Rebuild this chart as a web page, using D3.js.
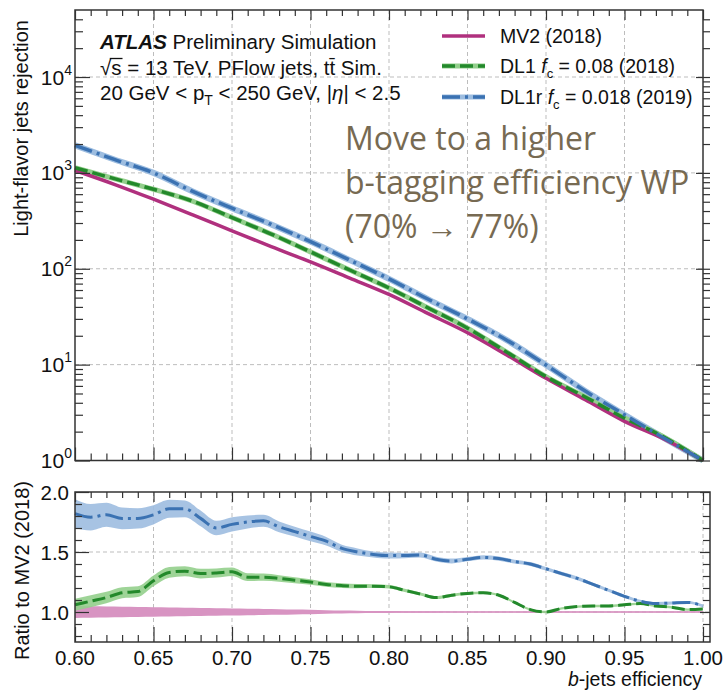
<!DOCTYPE html>
<html>
<head>
<meta charset="utf-8">
<script src="https://d3js.org/d3.v7.min.js"></script>
<title>b-tagging performance</title>
<style>
  body { margin: 0; background: #fff; }
  text { font-family: "Liberation Sans", Arial, Helvetica, sans-serif; fill: #111; }
  .tick line { stroke: #333; stroke-width: 1.2; }
</style>
</head>
<body>
<div id="chart"></div>
<script>
// ---- top panel: light-flavour rejection vs b-jet efficiency ----
var effMain = [0.600, 0.625, 0.650, 0.675, 0.700, 0.725, 0.750, 0.775, 0.800, 0.825, 0.850, 0.875, 0.900, 0.925, 0.950, 0.975, 1.000];
var rejMV2  = [1060, 760, 531, 365, 249, 170, 118, 80, 54, 34, 21.5, 12.6, 7.2, 4.3, 2.56, 1.68, 1.0];
var rejDL1  = [1130, 870, 675, 506, 342, 230, 150, 97, 63, 39, 24, 13.5, 7.5, 4.6, 2.77, 1.76, 1.0];
var rejDL1r = [1940, 1380, 1000, 640, 428, 290, 192, 123, 78.5, 48, 30, 18, 9.9, 5.3, 3.0, 1.72, 1.0];

// ---- bottom panel: ratio to MV2 ----
var effRatio = [0.60, 0.61, 0.62, 0.63, 0.64, 0.65, 0.66, 0.67, 0.68, 0.69, 0.70, 0.71, 0.72, 0.73, 0.74, 0.75, 0.76, 0.77, 0.78, 0.79, 0.80,
                0.81, 0.82, 0.83, 0.84, 0.85, 0.86, 0.87, 0.88, 0.89, 0.90, 0.91, 0.92, 0.93, 0.94, 0.95, 0.96, 0.97, 0.98, 0.99, 1.00];
var ratioDL1r = [1.82, 1.79, 1.81, 1.78, 1.78, 1.81, 1.86, 1.86, 1.78, 1.70, 1.73, 1.75, 1.76, 1.71, 1.67, 1.63, 1.59, 1.53, 1.50, 1.48, 1.47,
                 1.47, 1.475, 1.44, 1.425, 1.44, 1.455, 1.445, 1.42, 1.40, 1.36, 1.32, 1.28, 1.23, 1.18, 1.13, 1.09, 1.07, 1.075, 1.08, 1.05];
var ratioDL1  = [1.06, 1.09, 1.12, 1.16, 1.17, 1.26, 1.33, 1.34, 1.32, 1.325, 1.335, 1.29, 1.29, 1.28, 1.265, 1.25, 1.23, 1.22, 1.215, 1.215, 1.21,
                 1.18, 1.15, 1.12, 1.14, 1.155, 1.16, 1.14, 1.08, 1.02, 1.00, 1.03, 1.045, 1.05, 1.05, 1.06, 1.07, 1.05, 1.04, 1.02, 1.025];
var errDL1r = [0.12, 0.11, 0.10, 0.09, 0.085, 0.08, 0.075, 0.07, 0.065, 0.06, 0.06, 0.055, 0.05, 0.045, 0.04, 0.04, 0.035, 0.03, 0.03, 0.025, 0.025,
               0.022, 0.02, 0.02, 0.02, 0.018, 0.018, 0.018, 0.016, 0.016, 0.015, 0.015, 0.015, 0.014, 0.014, 0.014, 0.013, 0.013, 0.013, 0.012, 0.012];
var errDL1  = [0.05, 0.05, 0.048, 0.046, 0.045, 0.045, 0.045, 0.042, 0.04, 0.038, 0.035, 0.032, 0.03, 0.027, 0.025, 0.022, 0.02, 0.02, 0.018, 0.016, 0.015,
               0.014, 0.013, 0.012, 0.012, 0.011, 0.011, 0.01, 0.01, 0.01, 0.01, 0.01, 0.01, 0.01, 0.01, 0.01, 0.01, 0.01, 0.01, 0.01, 0.01];
var errMV2  = [0.05, 0.048, 0.046, 0.044, 0.042, 0.04, 0.038, 0.036, 0.034, 0.032, 0.03, 0.028, 0.025, 0.023, 0.02, 0.018, 0.015, 0.013, 0.011, 0.009, 0.008,
               0.007, 0.006, 0.006, 0.005, 0.005, 0.005, 0.005, 0.004, 0.004, 0.004, 0.004, 0.004, 0.004, 0.004, 0.004, 0.004, 0.004, 0.004, 0.004, 0.004];

// tick labels
var xMajor = [0.60, 0.65, 0.70, 0.75, 0.80, 0.85, 0.90, 0.95, 1.00];
var yMajor = [1, 10, 100, 1000, 10000];
var yExp = ["0", "1", "2", "3", "4"];
var ratioMajor = [1.0, 1.5, 2.0];

var legendTitles = [["MV2 (2018)"], ["DL1 ", "f", "c", " = 0.08 (2018)"], ["DL1r ", "f", "c", " = 0.018 (2019)"]];
var infoLines = ["Move to a higher", "b-tagging efficiency WP", "(70% \u2192 77%)"];

var colMV2 = "#b0307e", colDL1 = "#23892b", colDL1r = "#3b72b2";
var bandMV2 = "#d894c2", bandDL1 = "#93cf8c", bandDL1r = "#9dbde0";

var svg = d3.select("#chart").append("svg").attr("width", 726).attr("height", 691);

var x = d3.scaleLinear().domain([0.6, 1.0]).range([75, 703]);
var y = d3.scaleLog().domain([1, 5e4]).range([460.5, 10]);
var yr = d3.scaleLinear().domain([0.75, 2.0]).range([642, 492]);

var xMinor = d3.range(0.60, 1.0001, 0.01).filter(function(v) { return Math.abs(v * 20 - Math.round(v * 20)) > 1e-6; });
var yMinor = [];
[1, 10, 100, 1000, 10000].forEach(function(d) { for (var k = 2; k <= 9; k++) if (d * k < 5e4) yMinor.push(d * k); });
var rMinor = [0.8, 0.9, 1.1, 1.2, 1.3, 1.4, 1.6, 1.7, 1.8, 1.9];

function ticks(axisFn, scale, vals, size, tx, ty) {
  svg.append("g").attr("transform", "translate(" + tx + "," + ty + ")").attr("color", "#333")
    .call(axisFn(scale).tickValues(vals).tickSize(size).tickFormat(""))
    .call(function(g) { g.select(".domain").remove(); });
}

// ---------- grids ----------
var grid = svg.append("g").attr("stroke", "#bdbdbd").attr("stroke-width", 1).attr("stroke-dasharray", "4,3");
grid.selectAll(".gv").data(xMajor.slice(1, 8)).enter().append("line")
  .attr("x1", function(d) { return x(d); }).attr("x2", function(d) { return x(d); }).attr("y1", 10).attr("y2", 460.5);
grid.selectAll(".gh").data(yMajor.slice(1)).enter().append("line")
  .attr("x1", 75).attr("x2", 703).attr("y1", function(d) { return y(d); }).attr("y2", function(d) { return y(d); });
grid.selectAll(".gv2").data(xMajor.slice(1)).enter().append("line")
  .attr("x1", function(d) { return x(d); }).attr("x2", function(d) { return x(d); }).attr("y1", 492).attr("y2", 642);
grid.selectAll(".gh2").data([1.0, 1.5]).enter().append("line")
  .attr("x1", 75).attr("x2", 710).attr("y1", function(d) { return yr(d); }).attr("y2", function(d) { return yr(d); });

// ---------- top panel curves ----------
var line = d3.line().curve(d3.curveMonotoneX)
  .x(function(d) { return x(d[0]); }).y(function(d) { return y(d[1]); });
var zipT = function(arr) { return effMain.map(function(e, i) { return [e, arr[i]]; }); };

var topG = svg.append("g");
topG.append("path").attr("d", line(zipT(rejDL1r))).attr("fill", "none").attr("stroke", bandDL1r).attr("stroke-width", 6);
topG.append("path").attr("d", line(zipT(rejDL1))).attr("fill", "none").attr("stroke", bandDL1).attr("stroke-width", 5);
topG.append("path").attr("d", line(zipT(rejMV2))).attr("fill", "none").attr("stroke", colMV2).attr("stroke-width", 3.5);
topG.append("path").attr("d", line(zipT(rejDL1))).attr("fill", "none").attr("stroke", colDL1).attr("stroke-width", 3.5)
  .attr("stroke-dasharray", "13,5");
topG.append("path").attr("d", line(zipT(rejDL1r))).attr("fill", "none").attr("stroke", colDL1r).attr("stroke-width", 3.5)
  .attr("stroke-dasharray", "18,5,3,5");

// ---------- ratio panel ----------
var area = d3.area().curve(d3.curveMonotoneX)
  .x(function(d) { return x(d[0]); }).y0(function(d) { return yr(d[1] - d[2]); }).y1(function(d) { return yr(d[1] + d[2]); });
var rline = d3.line().curve(d3.curveMonotoneX)
  .x(function(d) { return x(d[0]); }).y(function(d) { return yr(d[1]); });
var zipR = function(c, e) { return effRatio.map(function(v, i) { return [v, c ? c[i] : 1.0, e ? e[i] : 0]; }); };

var botG = svg.append("g");
botG.append("path").attr("d", area(zipR(null, errMV2))).attr("fill", bandMV2);
botG.append("path").attr("d", rline(zipR(null, null))).attr("fill", "none").attr("stroke", bandMV2).attr("stroke-width", 1.5);
botG.append("path").attr("d", area(zipR(ratioDL1, errDL1))).attr("fill", bandDL1).attr("opacity", 0.9);
botG.append("path").attr("d", area(zipR(ratioDL1r, errDL1r))).attr("fill", bandDL1r).attr("opacity", 0.9);
botG.append("path").attr("d", rline(zipR(ratioDL1, null))).attr("fill", "none").attr("stroke", colDL1).attr("stroke-width", 3)
  .attr("stroke-dasharray", "13,5");
botG.append("path").attr("d", rline(zipR(ratioDL1r, null))).attr("fill", "none").attr("stroke", colDL1r).attr("stroke-width", 3)
  .attr("stroke-dasharray", "18,5,3,5");

// ---------- frames & ticks ----------
svg.append("rect").attr("x", 75).attr("y", 10).attr("width", 628).attr("height", 450.5)
  .attr("fill", "none").attr("stroke", "#333").attr("stroke-width", 1.5);
svg.append("rect").attr("x", 75).attr("y", 492).attr("width", 635).attr("height", 150)
  .attr("fill", "none").attr("stroke", "#333").attr("stroke-width", 1.5);

// top panel
ticks(d3.axisBottom, x, xMajor, -13, 0, 460.5);
ticks(d3.axisBottom, x, xMinor, -7, 0, 460.5);
ticks(d3.axisTop, x, xMajor, -10, 0, 10);
ticks(d3.axisTop, x, xMinor, -6, 0, 10);
ticks(d3.axisLeft, y, yMajor, -15, 75, 0);
ticks(d3.axisLeft, y, yMinor, -8, 75, 0);
ticks(d3.axisRight, y, yMajor, 7, 703, 0);
ticks(d3.axisLeft, y, yMajor, 7, 703, 0);
ticks(d3.axisRight, y, yMinor, 7, 703, 0);
// bottom panel
ticks(d3.axisBottom, x, xMajor, -15, 0, 642);
ticks(d3.axisBottom, x, xMinor, -7, 0, 642);
ticks(d3.axisTop, x, xMajor, -10, 0, 492);
ticks(d3.axisTop, x, xMinor, -6, 0, 492);
ticks(d3.axisLeft, yr, ratioMajor, -14, 75, 0);
ticks(d3.axisLeft, yr, rMinor, -7, 75, 0);
ticks(d3.axisRight, yr, ratioMajor, -10, 710, 0);
ticks(d3.axisRight, yr, rMinor, -7, 710, 0);

// ---------- tick labels ----------
svg.selectAll(".xl").data(xMajor).enter().append("text")
  .attr("x", function(d) { return x(d); }).attr("y", 665).attr("text-anchor", "middle")
  .style("font-size", "20.5px").text(function(d) { return d3.format(".2f")(d); });
svg.selectAll(".rl").data(ratioMajor).enter().append("text")
  .attr("x", 69).attr("y", function(d) { return yr(d) + 7.5; }).attr("text-anchor", "end")
  .style("font-size", "20.5px").text(function(d) { return d3.format(".1f")(d); });
var yl = svg.selectAll(".yl").data(yMajor).enter().append("text")
  .attr("x", 72).attr("y", function(d) { return y(d) + 7.5; }).attr("text-anchor", "end").style("font-size", "21px");
yl.append("tspan").text("10");
yl.append("tspan").attr("dy", -10).style("font-size", "14px").text(function(d, i) { return yExp[i]; });

// ---------- axis titles ----------
svg.append("text").attr("transform", "translate(28,20) rotate(-90)").attr("text-anchor", "end")
  .style("font-size", "20px").text("Light-flavor jets rejection");
svg.append("text").attr("transform", "translate(29,481) rotate(-90)").attr("text-anchor", "end")
  .style("font-size", "20px").text("Ratio to MV2 (2018)");
var xt = svg.append("text").attr("x", 702).attr("y", 686).attr("text-anchor", "end").style("font-size", "19.5px");
xt.append("tspan").style("font-style", "italic").text("b");
xt.append("tspan").text("-jets efficiency");

// ---------- ATLAS label ----------
var t1 = svg.append("text").attr("x", 100).attr("y", 49).style("font-size", "20.5px");
t1.append("tspan").style("font-weight", "bold").style("font-style", "italic").text("ATLAS");
t1.append("tspan").text(" Preliminary Simulation");
var t2 = svg.append("text").attr("x", 100).attr("y", 74.5).style("font-size", "20.5px");
var sq = t2.append("tspan").text("\u221A");
var ss = t2.append("tspan").text("s");
t2.append("tspan").text(" = 13 TeV, PFlow jets, t\u0074\u0304 Sim.");
// vinculum of the square root over "s"
var sqW = sq.node().getComputedTextLength(), ssW = ss.node().getComputedTextLength();
svg.append("line").attr("x1", 100 + sqW - 1.5).attr("x2", 100 + sqW + ssW + 1)
  .attr("y1", 58.5).attr("y2", 58.5).attr("stroke", "#111").attr("stroke-width", 1.3);
var t3 = svg.append("text").attr("x", 100).attr("y", 99.5).style("font-size", "20.5px");
t3.append("tspan").text("20 GeV < p");
t3.append("tspan").attr("dy", 5).style("font-size", "14px").text("T");
t3.append("tspan").attr("dy", -5).text(" < 250 GeV, |");
t3.append("tspan").style("font-style", "italic").text("\u03B7");
t3.append("tspan").text("| < 2.5");

// ---------- legend ----------
var legY = [36, 66, 97];
var legStyle = [[colMV2, null, null], [colDL1, "13,5", bandDL1], [colDL1r, "18,5,3,5", bandDL1r]];
legendTitles.forEach(function(parts, i) {
  if (legStyle[i][2]) svg.append("line").attr("x1", 442).attr("x2", 485).attr("y1", legY[i]).attr("y2", legY[i])
    .attr("stroke", legStyle[i][2]).attr("stroke-width", 5);
  svg.append("line").attr("x1", 442).attr("x2", 485).attr("y1", legY[i]).attr("y2", legY[i])
    .attr("stroke", legStyle[i][0]).attr("stroke-width", 3.5).attr("stroke-dasharray", legStyle[i][1]);
  var t = svg.append("text").attr("x", 500).attr("y", legY[i] + 7).style("font-size", "19.5px");
  t.append("tspan").text(parts[0]);
  if (parts.length > 1) {
    t.append("tspan").style("font-style", "italic").text(parts[1]);
    t.append("tspan").attr("dy", 5).style("font-size", "13px").text(parts[2]);
    t.append("tspan").attr("dy", -5).text(parts[3]);
  }
});

// ---------- overlay note ----------
svg.selectAll(".note").data(infoLines).enter().append("text")
  .attr("x", 345).attr("y", function(d, i) { return 150 + i * 44; })
  .style("font-family", "'Open Sans', sans-serif").style("font-size", "32px").style("fill", "#776a52")
  .text(function(d) { return d; });
</script>
</body>
</html>
